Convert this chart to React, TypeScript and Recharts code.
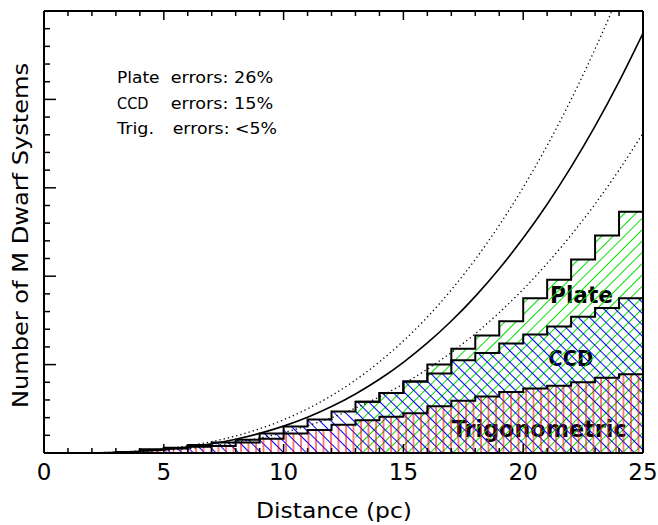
import { ComposedChart, Area, Line, XAxis, YAxis } from 'recharts';

// distance bins in pc (each value holds the bin that starts there; last point repeats the 24-25 bin)
const distance = [0, 1, 2, 3, 4, 5, 6, 7, 8, 9, 10, 11, 12, 13, 14, 15, 16, 17, 18, 19, 20, 21, 22, 23, 24, 25];
const totalSystems = [0, 0, 0, 1, 4, 6, 9, 12, 15, 22, 30, 38, 47, 58, 68, 81, 100, 118, 133, 149, 175, 196, 219, 246, 273, 273];
const ccdSystems = [0, 0, 0, 1, 4, 6, 9, 12, 15, 22, 30, 38, 47, 58, 68, 81, 90, 105, 113, 124, 134, 143, 154, 164, 175, 175];
const trigSystems = [0, 0, 0, 1, 4, 5, 7, 8, 12, 16, 22, 26, 32, 37, 41, 45, 53, 59, 64, 69, 73, 76, 80, 85, 89, 89];
const plateFrom = 13;

// expected counts and their envelope, read at each integer distance
const expected = [0, 0.03, 0.24, 0.8, 1.9, 3.8, 6.6, 10.4, 15.6, 22.2, 30.4, 40.4, 52.5, 66.8, 83.4, 102.6, 124.5, 149.3, 177.2, 208.4, 243.1, 281.4, 323.6, 369.7, 420.1, 474.8];
const expectedHigh = [0, 0.04, 0.3, 1.0, 2.4, 4.7, 8.1, 12.9, 19.2, 27.4, 37.6, 50.0, 64.9, 82.5, 103.1, 126.8, 153.8, 184.5, 219.0, 257.6, 300.5, 347.8, 399.9, 457.0, 519.2, 586.9];
const expectedLow = [0, 0.02, 0.18, 0.62, 1.48, 2.9, 5.0, 7.94, 11.86, 16.88, 23.16, 30.82, 40.01, 50.87, 63.54, 78.15, 94.85, 113.76, 135.04, 158.82, 185.24, 214.44, 246.56, 281.73, 320.09, 361.8];

const xTicks = distance;
const xLabels = [0, 5, 10, 15, 20, 25];
const yTicks = [0, 20, 40, 60, 80, 100, 120, 140, 160, 180, 200, 220, 240, 260, 280, 300, 320, 340, 360, 380, 400, 420, 440, 460, 480, 500];
const yMajor = [0, 100, 200, 300, 400, 500];

const errorLabels = ['Plate', 'CCD', 'Trig.'];
const errorValues = ['errors: 26%', 'errors: 15%', 'errors: <5%'];

const rows = distance.map((d, i) => ({
  d,
  plate: d >= plateFrom ? totalSystems[i] : null,
  ccd: ccdSystems[i],
  trig: trigSystems[i],
  fit: expected[i],
  hi: expectedHigh[i],
  lo: expectedLow[i],
}));

const font = '"DejaVu Sans", sans-serif';

function BottomTick({ x, y, payload }: any) {
  const major = xLabels.includes(payload.value);
  return (
    <g>
      <line x1={x} x2={x} y1={y} y2={y - (major ? 9 : 5)} stroke="#000" strokeWidth={1.5} />
      {major && (
        <text x={x} y={y + 27} textAnchor="middle" fontSize={23} fontFamily={font} fill="#000">
          {payload.value}
        </text>
      )}
    </g>
  );
}

function TopTick({ x, y, payload }: any) {
  const major = xLabels.includes(payload.value);
  return <line x1={x} x2={x} y1={y} y2={y + (major ? 9 : 5)} stroke="#000" strokeWidth={1.5} />;
}

function LeftTick({ x, y, payload }: any) {
  const major = yMajor.includes(payload.value);
  return <line x1={x} x2={x + (major ? 12 : 6)} y1={y} y2={y} stroke="#000" strokeWidth={1.5} />;
}

function RightTick({ x, y, payload }: any) {
  const major = yMajor.includes(payload.value);
  return <line x1={x} x2={x - (major ? 12 : 6)} y1={y} y2={y} stroke="#000" strokeWidth={1.5} />;
}

const axisLine = { stroke: '#000', strokeWidth: 2 };

export default function App() {
  return (
    <div style={{ position: 'absolute', left: 0, top: 0, background: '#fff' }}>
      <ComposedChart width={658} height={525} data={rows} margin={{ top: 1, right: 0, bottom: 0, left: 0 }}>
        <defs>
          <pattern id="hatchPlate" width="8" height="8" patternUnits="userSpaceOnUse" patternTransform="rotate(45)">
            <line x1="0.5" y1="0" x2="0.5" y2="8" stroke="#00e000" strokeWidth="1" shapeRendering="crispEdges" />
          </pattern>
          <pattern id="hatchCcd" width="8" height="8" patternUnits="userSpaceOnUse" patternTransform="rotate(-45)">
            <line x1="0.5" y1="0" x2="0.5" y2="8" stroke="#0000ff" strokeWidth="1" shapeRendering="crispEdges" />
          </pattern>
          <pattern id="hatchTrig" width="7.5" height="10" patternUnits="userSpaceOnUse">
            <line x1="1" y1="0" x2="1" y2="10" stroke="#ff0000" strokeWidth="1" />
          </pattern>
        </defs>

        <XAxis dataKey="d" type="number" domain={[0, 25]} ticks={xTicks} interval={0} height={72}
          tickSize={0} tickMargin={0} tickLine={false} axisLine={axisLine} tick={BottomTick} />
        <XAxis xAxisId="top" orientation="top" dataKey="d" type="number" domain={[0, 25]} ticks={xTicks} interval={0}
          height={10} tickSize={0} tickMargin={0} tickLine={false} axisLine={axisLine} tick={TopTick} />
        <YAxis type="number" domain={[0, 500]} ticks={yTicks} interval={0} width={44} allowDataOverflow
          tickSize={0} tickMargin={0} tickLine={false} axisLine={axisLine} tick={LeftTick} />
        <YAxis yAxisId="right" orientation="right" type="number" domain={[0, 500]} ticks={yTicks} interval={0} width={15}
          tickSize={0} tickMargin={0} tickLine={false} axisLine={axisLine} tick={RightTick} />

        <Area dataKey="plate" type="stepAfter" stroke="#000" strokeWidth={2} fill="url(#hatchPlate)" fillOpacity={1}
          dot={false} activeDot={false} isAnimationActive={false} />
        <Area dataKey="ccd" type="stepAfter" stroke="#000" strokeWidth={2} fill="url(#hatchCcd)" fillOpacity={1}
          dot={false} activeDot={false} isAnimationActive={false} />
        <Area dataKey="trig" type="stepAfter" stroke="#000" strokeWidth={2} fill="url(#hatchTrig)" fillOpacity={1}
          dot={false} activeDot={false} isAnimationActive={false} />

        <Line dataKey="hi" type="monotone" stroke="#000" strokeWidth={1.3} strokeDasharray="1.3 3"
          dot={false} activeDot={false} isAnimationActive={false} />
        <Line dataKey="fit" type="monotone" stroke="#000" strokeWidth={1.6}
          dot={false} activeDot={false} isAnimationActive={false} />
        <Line dataKey="lo" type="monotone" stroke="#000" strokeWidth={1.3} strokeDasharray="1.3 3"
          dot={false} activeDot={false} isAnimationActive={false} />

        {errorLabels.map((lab, i) => (
          <g key={lab} fontFamily={font} fontSize={16} fill="#000">
            <text x={117} y={83 + i * 25.5} textLength={[42.5, 31.5, 37][i]} lengthAdjust="spacingAndGlyphs">{lab}</text>
            <text x={i === 2 ? 172.7 : 170.7} y={83 + i * 25.5} textLength={[102.5, 102.5, 104.3][i]} lengthAdjust="spacingAndGlyphs">
              {errorValues[i]}
            </text>
          </g>
        ))}

        <text x={550} y={303.3} fontFamily={font} fontSize={23} fontWeight="bold" fill="#000"
          textLength={63} lengthAdjust="spacingAndGlyphs">Plate</text>
        <text x={548.3} y={366} fontFamily={font} fontSize={22} fontWeight="bold" fill="#000"
          textLength={45} lengthAdjust="spacingAndGlyphs">CCD</text>
        <text x={451.7} y={436.7} fontFamily={font} fontSize={23} fontWeight="bold" fill="#000"
          textLength={175} lengthAdjust="spacingAndGlyphs">Trigonometric</text>

        <text x={334} y={518} textAnchor="middle" fontFamily={font} fontSize={21} fill="#000"
          textLength={156} lengthAdjust="spacingAndGlyphs">Distance (pc)</text>
        <text transform="rotate(-90)" x={-235.5} y={28} textAnchor="middle" fontFamily={font} fontSize={21} fill="#000"
          textLength={345} lengthAdjust="spacingAndGlyphs">Number of M Dwarf Systems</text>
      </ComposedChart>
    </div>
  );
}
